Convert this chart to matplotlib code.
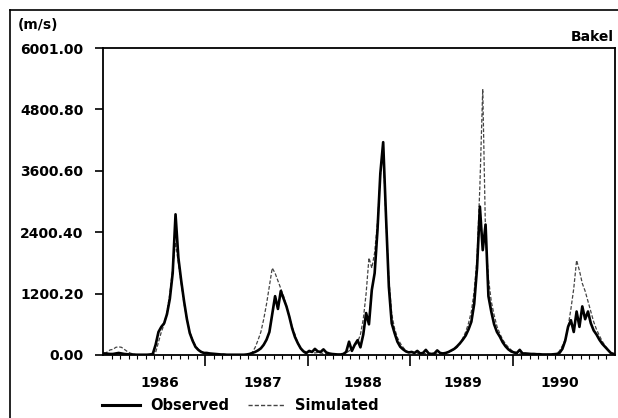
import numpy as np
import matplotlib
matplotlib.use("Agg")
import matplotlib.pyplot as plt
from matplotlib.lines import Line2D
from matplotlib.ticker import FixedLocator

plt.rcParams['font.family'] = ['DejaVu Sans']
plt.rcParams['font.weight'] = 'bold'

# ---- data: dekadal discharge at Bakel (10-day steps, 36 per year) ----
years = [1986, 1987, 1988, 1989, 1990]
year_labels = ["1986", "1987", "1988", "1989", "1990"]
ytick_values = [0.00, 1200.20, 2400.40, 3600.60, 4800.80, 6001.00]

obs_1986 = [30, 25, 20, 20, 30, 40, 30, 20, 15, 10, 10, 5, 5, 5, 5, 5, 10, 20,
            200, 450, 550, 620, 800, 1100, 1600, 2750, 1900, 1450, 1050, 700,
            430, 280, 160, 100, 60, 40]
sim_1986 = [20, 60, 100, 110, 150, 160, 150, 110, 70, 40, 20, 10, 5, 5, 5, 5, 5, 10,
            50, 250, 450, 600, 850, 1200, 1700, 2200, 1800, 1400, 1000, 700,
            450, 300, 180, 110, 70, 40]
obs_1987 = [40, 30, 25, 20, 15, 10, 10, 5, 5, 5, 5, 5, 5, 5, 10, 20, 40,
            60, 90, 130, 200, 300, 450, 800, 1150, 900, 1250, 1100, 950, 750,
            520, 350, 230, 130, 70, 40]
sim_1987 = [40, 30, 20, 15, 10, 8, 5, 5, 5, 5, 5, 5, 5, 5, 5, 10,
            50, 150, 290, 450, 700, 1000, 1350, 1700, 1600, 1450, 1300, 1150,
            950, 750, 550, 400, 230, 130, 50, 25]
obs_1988 = [80, 60, 120, 70, 60, 110, 50, 30, 20, 15, 10, 10, 20,
            60, 260, 80, 200, 290, 150, 400, 820, 600, 1270, 1600, 2440, 3550,
            4160, 2700, 1330, 620, 430, 260, 160, 110, 70, 50]
sim_1988 = [60, 50, 40, 50, 40, 30, 20, 15, 10, 10, 10, 10, 20,
            40, 80, 120, 180, 250, 400, 700, 1200, 1900, 1700, 2000, 2600, 3500,
            4000, 2600, 1500, 800, 520, 340, 230, 150, 80, 50]
obs_1989 = [60, 40, 80, 30, 40, 100, 30, 20, 30, 90, 40, 30, 40, 60, 90,
            120, 170, 230, 300, 380, 500, 650, 1000, 1700, 2900, 2050, 2550,
            1150, 850, 600, 450, 360, 250, 170, 110, 70]
sim_1989 = [50, 40, 35, 30, 30, 25, 20, 20, 20, 25, 30, 30, 40, 60, 80,
            110, 150, 220, 330, 450, 620, 850, 1250, 1900, 3300, 5200, 2300,
            1500, 1050, 780, 560, 420, 300, 220, 150, 100]
obs_1990 = [50, 40, 100, 30, 30, 25, 20, 20, 15, 15, 10, 10, 10, 10, 15, 20,
            40, 120, 280, 550, 680, 450, 850, 550, 950, 700, 850, 620, 480, 400,
            300, 220, 160, 100, 40, 20]
sim_1990 = [40, 30, 25, 20, 20, 15, 15, 10, 10, 10, 10, 10, 10, 10, 15, 30,
            80, 180, 300, 550, 900, 1300, 1850, 1650, 1400, 1250, 1050, 850, 650,
            500, 380, 270, 180, 110, 50, 10]

observed = np.array(obs_1986 + obs_1987 + obs_1988 + obs_1989 + obs_1990, dtype=float)
simulated = np.array(sim_1986 + sim_1987 + sim_1988 + sim_1989 + sim_1990, dtype=float)
# time axis in decimal years (dekad centres)
t = years[0] + (np.arange(len(observed)) + 0.5) / 36.0

W, H = 618, 418
fig = plt.figure(figsize=(W / 100, H / 100), dpi=100)
fig.patch.set_facecolor('white')

L, R, T, B = 103, 615, 48, 355
ax = fig.add_axes([L / W, 1 - B / H, (R - L) / W, (B - T) / H])

ax.plot(t, simulated, color='#444444', lw=0.9, linestyle=(0, (3, 1.5)), zorder=2)
ax.plot(t, observed, color='black', lw=1.9, zorder=3)

ax.set_xlim(1986.0, 1991.0)
ax.set_ylim(0, 6001.0)

ax.set_yticks(ytick_values)
ax.set_yticklabels([f"{v:.2f}" for v in ytick_values], fontsize=10, fontweight='bold')
ax.tick_params(axis='y', direction='out', length=6, width=1.2, pad=8)

ax.xaxis.set_major_locator(FixedLocator([1987, 1988, 1989, 1990]))
ax.xaxis.set_minor_locator(FixedLocator([1986 + m / 12 for m in range(1, 60)]))
ax.set_xticklabels([])
ax.tick_params(axis='x', which='major', direction='out', length=8, width=1.2)
ax.tick_params(axis='x', which='minor', direction='out', length=3, width=0.8)

for sp in ax.spines.values():
    sp.set_linewidth(1.3)

label_px = [160, 263, 363, 463, 560]
for lab, px in zip(year_labels, label_px):
    fig.text(px / W, 1 - 383 / H, lab, ha='center', va='center',
             fontsize=10, fontweight='bold')

# unit and station labels
fig.text(18 / W, 1 - 25 / H, "(m/s)", ha='left', va='center', fontsize=10, fontweight='bold')
fig.text(614 / W, 1 - 37 / H, "Bakel", ha='right', va='center', fontsize=10, fontweight='bold')

# outer frame (left and top edges)
fig.add_artist(Line2D([10 / W, 10 / W], [0, 1 - 10 / H], transform=fig.transFigure,
                      color='black', lw=1.2))
fig.add_artist(Line2D([10 / W, 1.0], [1 - 10 / H, 1 - 10 / H], transform=fig.transFigure,
                      color='black', lw=1.2))

# legend
ly = 1 - 405 / H
fig.add_artist(Line2D([102 / W, 140 / W], [ly, ly], transform=fig.transFigure,
                      color='black', lw=2.2))
fig.text(150 / W, ly, "Observed", ha='left', va='center', fontsize=10.5, fontweight='bold')
fig.add_artist(Line2D([248 / W, 284 / W], [ly, ly], transform=fig.transFigure,
                      color='#444444', lw=1.0, linestyle=(0, (3, 1.5))))
fig.text(295 / W, ly, "Simulated", ha='left', va='center', fontsize=10.5, fontweight='bold')

fig.savefig("out.png", dpi=100, facecolor='white')
